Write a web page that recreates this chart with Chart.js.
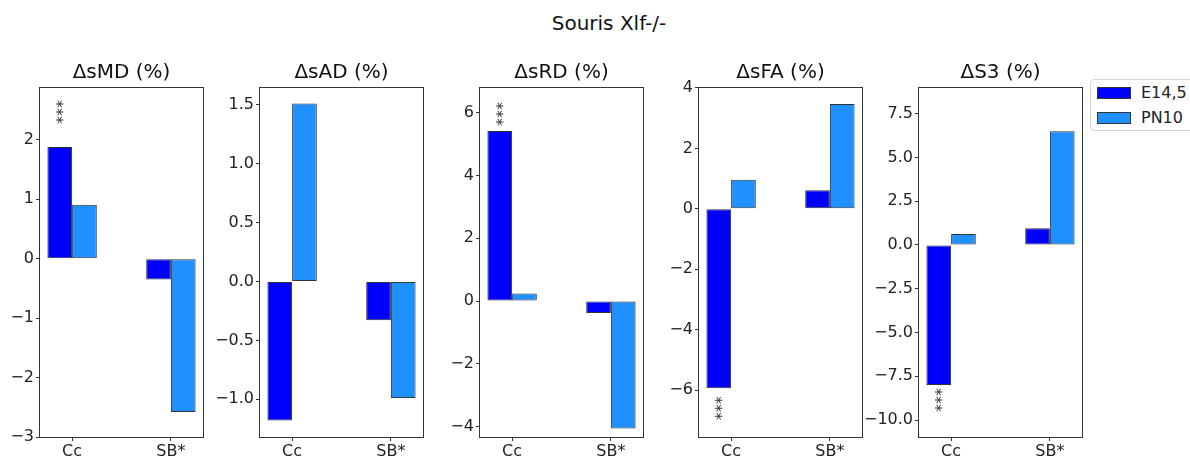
<!DOCTYPE html>
<html>
<head>
<meta charset="utf-8">
<script src="https://cdn.jsdelivr.net/npm/chart.js@4.4.0/dist/chart.umd.min.js"></script>
<style>
  html, body { margin: 0; padding: 0; background: #fff; overflow: hidden; }
  #fig { position: relative; width: 1190px; height: 457px; overflow: hidden; font-family: 'DejaVu Sans', sans-serif; color: #111; }
  #fig canvas { position: absolute; top: 0; }
  #suptitle { position: absolute; left: 0; width: 1218px; top: 10px; line-height: 26px; text-align: center; font-size: 20px; }
  #legend { position: absolute; left: 1090px; top: 79px; width: 130px; height: 50px; border: 1px solid #d4d4d4; border-radius: 4px; background: #fff; font-size: 16px; color: #222; }
  #legend .patch { position: absolute; left: 6px; width: 32px; height: 10px; border: 1px solid #333; }
  #legend .lbl { position: absolute; left: 50px; height: 20px; line-height: 20px; white-space: nowrap; }
</style>
</head>
<body>
<div id="fig">
  <div id="suptitle">Souris Xlf-/-</div>
  <div id="legend"></div>
</div>
<script>
const categories = ['Cc', 'SB*'];
const seriesNames = ['E14,5', 'PN10'];
const seriesColors = ['#0000ff', '#1e90ff'];
const panelTitles = ['ΔsMD (%)', 'ΔsAD (%)', 'ΔsRD (%)', 'ΔsFA (%)', 'ΔS3 (%)'];

// values per panel: [Cc, SB*]
const e145 = [[1.88, -0.35], [-1.18, -0.33], [5.42, -0.38], [-5.94, 0.61], [-8.0, 0.95]];
const pn10 = [[0.91, -2.58], [1.51, -0.99], [0.24, -4.06], [0.96, 3.47], [0.63, 6.49]];

const yMin = [-3.0, -1.32, -4.33, -7.55, -10.97];
const yMax = [2.89, 1.65, 6.82, 4.03, 9.02];
const yTicks = [
  [-3, -2, -1, 0, 1, 2],
  [-1, -0.5, 0, 0.5, 1, 1.5],
  [-4, -2, 0, 2, 4, 6],
  [-6, -4, -2, 0, 2, 4],
  [-10, -7.5, -5, -2.5, 0, 2.5, 5, 7.5]
];
const tickDecimals = [0, 1, 0, 0, 1];

// significance marks on the E14,5 Cc bar
const sigText = ['***', '', '***', '***', '***'];
const sigY = [2.47, null, 5.96, -6.6, -8.86];

const plotLeft = [40, 260, 480, 699, 919];

Chart.defaults.font.family = "'DejaVu Sans', sans-serif";
Chart.defaults.font.size = 16;
Chart.defaults.color = '#222';

function fmt(v, dec) {
  const s = Math.abs(v).toFixed(dec);
  return (v < 0 ? '\u2212' : '') + s;
}

function makePanel(i) {
  const canvas = document.createElement('canvas');
  canvas.width = 283;
  canvas.height = 457;
  canvas.style.left = (plotLeft[i] - 60) + 'px';
  document.getElementById('fig').insertBefore(canvas, document.getElementById('legend'));

  const framePlugin = {
    id: 'frame' + i,
    afterDatasetsDraw(chart) {
      const { ctx, chartArea: a } = chart;
      ctx.save();
      ctx.strokeStyle = '#333';
      ctx.lineWidth = 1;
      ctx.strokeRect(a.left - 0.5, a.top + 0.5, a.right - a.left + 1, a.bottom - a.top);
      if (sigText[i]) {
        const bar = chart.getDatasetMeta(0).data[0];
        const y = chart.scales.y.getPixelForValue(sigY[i]);
        ctx.translate(bar.x, y);
        ctx.rotate(-Math.PI / 2);
        ctx.font = "16px 'DejaVu Sans'";
        ctx.fillStyle = '#333';
        ctx.textAlign = 'center';
        ctx.textBaseline = 'middle';
        ctx.fillText(sigText[i], 0, 4);
      }
      ctx.restore();
    }
  };

  const tickGrid = { drawOnChartArea: false, drawTicks: true, tickLength: 4, color: '#333', offset: false };

  new Chart(canvas, {
    type: 'bar',
    data: {
      datasets: [e145, pn10].map((vals, s) => ({
        label: seriesNames[s],
        data: categories.map((c, k) => ({ x: k, y: vals[i][k] })),
        backgroundColor: seriesColors[s],
        borderColor: '#333',
        borderWidth: 1,
        borderSkipped: false,
        categoryPercentage: 0.5,
        barPercentage: 1
      }))
    },
    options: {
      responsive: false,
      animation: false,
      layout: { padding: 0 },
      plugins: {
        legend: { display: false },
        tooltip: { enabled: false },
        title: {
          display: true,
          text: panelTitles[i],
          color: '#111',
          font: { size: 20, weight: 'normal' },
          padding: { top: 61, bottom: 2 }
        }
      },
      scales: {
        x: {
          type: 'linear',
          min: -0.325,
          max: 1.325,
          offset: false,
          afterBuildTicks: s => { s.ticks = categories.map((c, k) => ({ value: k })); },
          afterFit: s => { s.height = 20; },
          ticks: { callback: (v, k) => categories[k], padding: 1, maxRotation: 0, autoSkip: false },
          grid: tickGrid,
          border: { display: false }
        },
        y: {
          min: yMin[i],
          max: yMax[i],
          afterBuildTicks: s => { s.ticks = yTicks[i].map(v => ({ value: v })); },
          afterFit: s => { s.width = 60; },
          ticks: { callback: v => fmt(v, tickDecimals[i]), padding: 2, autoSkip: false },
          grid: tickGrid,
          border: { display: false }
        },
        yPad: {
          position: 'right',
          display: true,
          afterFit: s => { s.width = 60; },
          ticks: { display: false },
          grid: { display: false },
          border: { display: false }
        }
      }
    },
    plugins: [framePlugin]
  });
}

for (let i = 0; i < panelTitles.length; i++) makePanel(i);

// legend
const legend = document.getElementById('legend');
seriesNames.forEach((name, s) => {
  const p = document.createElement('div');
  p.className = 'patch';
  p.style.top = (7 + s * 25) + 'px';
  p.style.background = seriesColors[s];
  legend.appendChild(p);
  const t = document.createElement('div');
  t.className = 'lbl';
  t.style.top = (2.5 + s * 25) + 'px';
  t.textContent = name;
  legend.appendChild(t);
});
</script>
</body>
</html>
